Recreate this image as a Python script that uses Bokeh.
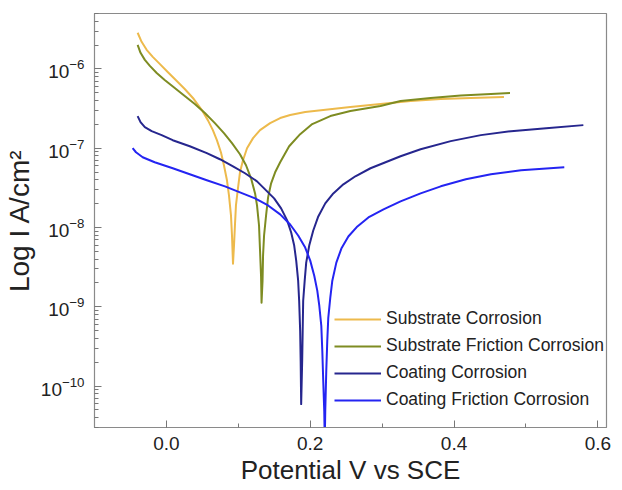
from bokeh.plotting import figure
from bokeh.models import (FixedTicker, SingleIntervalTicker, Range1d, Legend, LegendItem,
                          PrintfTickFormatter)
from bokeh.embed import file_html
from bokeh.resources import INLINE

# ---- data (potential V vs SCE, log10 current density A/cm2) ----
sub_corr_E = [-0.040, -0.0345, -0.0275, -0.019, -0.0093, 0.0018, 0.013, 0.0255, 0.0381, 0.0493,
              0.0576, 0.0646, 0.0702, 0.0758, 0.080, 0.0842, 0.087, 0.0898, 0.0912, 0.0926,
              0.094, 0.0953, 0.0967, 0.0995, 0.1023, 0.1065, 0.1121, 0.1205, 0.1302, 0.1442,
              0.1582, 0.1721, 0.193, 0.2181, 0.2558, 0.2977, 0.3396, 0.3815, 0.4234, 0.4694]
sub_corr_logI = [-5.544, -5.658, -5.759, -5.848, -5.937, -6.038, -6.139, -6.253, -6.380, -6.519,
                 -6.646, -6.772, -6.899, -7.051, -7.215, -7.405, -7.595, -7.848, -8.101, -8.456,
                 -8.228, -7.975, -7.722, -7.506, -7.304, -7.152, -7.000, -6.873, -6.772, -6.684,
                 -6.620, -6.582, -6.544, -6.519, -6.481, -6.443, -6.405, -6.380, -6.367, -6.354]

sub_fric_E = [-0.040, -0.036, -0.030, -0.023, -0.0135, -0.0024, 0.0116, 0.0255, 0.0395, 0.0535,
              0.0674, 0.080, 0.0912, 0.1023, 0.1107, 0.1177, 0.1233, 0.1260, 0.1288, 0.1302,
              0.1316, 0.1323, 0.1337, 0.1344, 0.1358, 0.1386, 0.1414, 0.1456, 0.1512, 0.1582,
              0.1707, 0.186, 0.2028, 0.2279, 0.2558, 0.2977, 0.3256, 0.3675, 0.4094, 0.4513,
              0.4778]
sub_fric_logI = [-5.696, -5.797, -5.886, -5.962, -6.051, -6.139, -6.241, -6.342, -6.443, -6.557,
                 -6.684, -6.810, -6.937, -7.076, -7.215, -7.380, -7.570, -7.722, -7.975, -8.291,
                 -8.608, -8.949, -8.671, -8.354, -8.101, -7.848, -7.620, -7.443, -7.304, -7.177,
                 -6.975, -6.823, -6.696, -6.595, -6.532, -6.468, -6.405, -6.367, -6.335, -6.316,
                 -6.304]

coat_corr_E = [-0.040, -0.036, -0.030, -0.0205, -0.0066, 0.0088, 0.0325, 0.0562, 0.0744, 0.0926,
               0.1093, 0.1260, 0.1386, 0.1498, 0.1595, 0.1679, 0.1735, 0.1777, 0.1805, 0.1832,
               0.1846, 0.186, 0.1867, 0.1874, 0.1888, 0.1895, 0.1902, 0.1923, 0.1944, 0.1986,
               0.2042, 0.2112, 0.2209, 0.2321, 0.2461, 0.2628, 0.2838, 0.3047, 0.3256, 0.3535,
               0.3954, 0.4373, 0.4792, 0.5281, 0.5798]
coat_corr_logI = [-6.595, -6.671, -6.734, -6.785, -6.835, -6.899, -6.975, -7.063, -7.139, -7.228,
                  -7.316, -7.418, -7.532, -7.633, -7.759, -7.911, -8.063, -8.228, -8.418, -8.671,
                  -8.924, -9.304, -9.684, -10.228, -9.684, -9.304, -8.924, -8.671, -8.443, -8.228,
                  -8.038, -7.861, -7.696, -7.570, -7.456, -7.354, -7.253, -7.177, -7.101, -7.013,
                  -6.911, -6.835, -6.785, -6.747, -6.709]

coat_fric_E = [-0.047, -0.0423, -0.033, -0.0163, 0.0088, 0.0325, 0.0562, 0.0814, 0.1023, 0.1233,
               0.1414, 0.1582, 0.1721, 0.1832, 0.193, 0.200, 0.2056, 0.2098, 0.2126, 0.2154,
               0.2168, 0.2181, 0.2195, 0.2202, 0.2209, 0.2223, 0.2237, 0.2251, 0.2279, 0.2307,
               0.2363, 0.2433, 0.2530, 0.2656, 0.2809, 0.3019, 0.3256, 0.3535, 0.3815, 0.4164,
               0.4513, 0.4932, 0.5533]
coat_fric_logI = [-7.000, -7.051, -7.114, -7.177, -7.253, -7.329, -7.405, -7.481, -7.557, -7.633,
                  -7.722, -7.835, -7.962, -8.101, -8.253, -8.418, -8.608, -8.797, -8.987, -9.241,
                  -9.557, -9.937, -10.316, -10.696, -10.316, -9.810, -9.430, -9.139, -8.886, -8.671,
                  -8.443, -8.266, -8.114, -7.987, -7.873, -7.772, -7.671, -7.570, -7.481, -7.392,
                  -7.329, -7.278, -7.241]

series_names = ["Substrate Corrosion", "Substrate Friction Corrosion",
                "Coating Corrosion", "Coating Friction Corrosion"]
series_E = [sub_corr_E, sub_fric_E, coat_corr_E, coat_fric_E]
series_logI = [sub_corr_logI, sub_fric_logI, coat_corr_logI, coat_fric_logI]
series_colors = ["#EDBA4C", "#7E8C22", "#26268E", "#2424F2"]

y_decades = [-10, -9, -8, -7, -6]

FONT = "Liberation Sans"
TXT = "#222222"
AXC = "#8A8A8A"

p = figure(frame_width=512, frame_height=414, output_backend="svg", toolbar_location=None,
           y_axis_type="log",
           x_range=Range1d(-0.1, 0.612), y_range=Range1d(3e-11, 5e-6),
           min_border_left=86, min_border_right=12, min_border_top=13, min_border_bottom=58)

p.xgrid.visible = False
p.ygrid.visible = False
p.outline_line_color = AXC
p.outline_line_width = 1.2
p.background_fill_color = "white"
p.border_fill_color = "white"

items = []
for name, E, lg, col in zip(series_names, series_E, series_logI, series_colors):
    r = p.line(E, [10 ** v for v in lg], line_color=col, line_width=2.0,
               line_join="round")
    items.append(LegendItem(label=name, renderers=[r]))

# x axis
xax = p.xaxis[0]
xax.ticker = SingleIntervalTicker(interval=0.2, num_minor_ticks=2)
xax.formatter = PrintfTickFormatter(format="%.1f")
xax.axis_label = "Potential V vs SCE"
xax.axis_label_text_font = FONT
xax.axis_label_text_font_size = "26px"
xax.axis_label_text_font_style = "normal"
xax.axis_label_text_color = TXT
xax.axis_label_standoff = 2
xax.major_label_text_font = FONT
xax.major_label_text_font_size = "19px"
xax.major_label_text_color = TXT
xax.major_label_standoff = 9
xax.major_tick_in = 7
xax.major_tick_out = 0
xax.minor_tick_in = 4
xax.minor_tick_out = 0
xax.axis_line_color = AXC
xax.major_tick_line_color = "#777777"
xax.minor_tick_line_color = "#777777"

# y axis
minor = [m * 10.0 ** d for d in [-11] + y_decades for m in range(2, 10)]
yax = p.yaxis[0]
yax.ticker = FixedTicker(ticks=[10.0 ** d for d in y_decades], minor_ticks=minor)
yax.axis_label = "Log I A/cm²"
yax.axis_label_text_font = FONT
yax.axis_label_text_font_size = "28px"
yax.axis_label_text_font_style = "normal"
yax.axis_label_text_color = TXT
yax.axis_label_standoff = 3
yax.major_label_text_font = FONT
yax.major_label_text_font_size = "19px"
yax.major_label_text_color = TXT
yax.major_label_standoff = 10
yax.major_tick_in = 7
yax.major_tick_out = 0
yax.minor_tick_in = 4
yax.minor_tick_out = 0
yax.axis_line_color = AXC
yax.major_tick_line_color = "#777777"
yax.minor_tick_line_color = "#777777"

legend = Legend(items=items, location=(240, 17))
legend.glyph_width = 47
legend.glyph_height = 20
legend.label_height = 20
legend.spacing = 6
legend.label_standoff = 5
legend.padding = 0
legend.margin = 0
legend.border_line_alpha = 0
legend.background_fill_alpha = 0
legend.label_text_font = FONT
legend.label_text_font_size = "17.5px"
legend.label_text_color = TXT
p.add_layout(legend, "center")

open("out.html", "w").write(file_html(p, INLINE))
